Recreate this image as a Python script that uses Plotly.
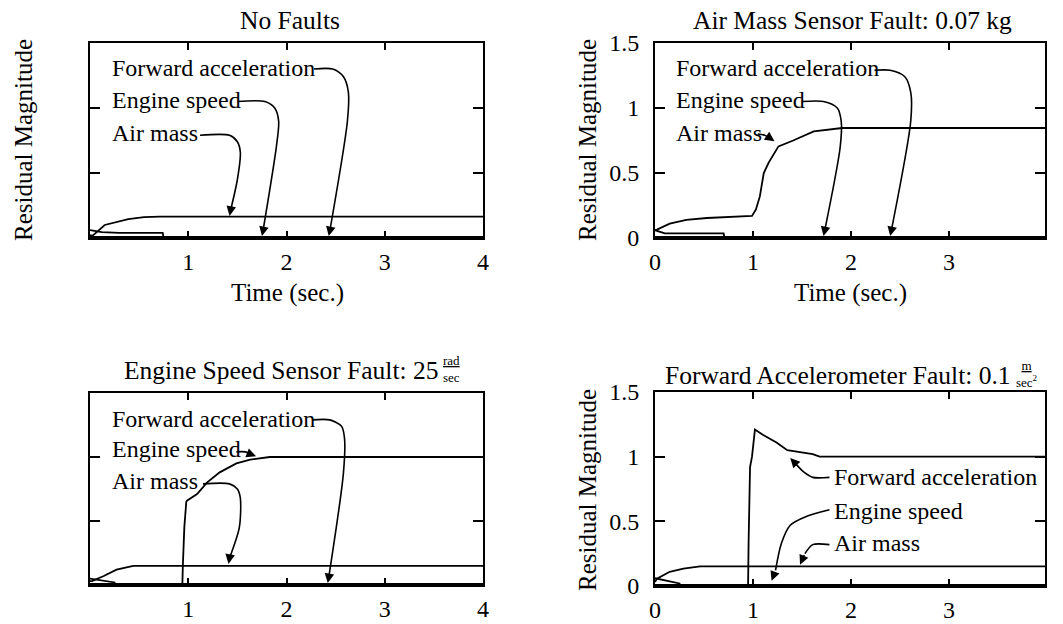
import plotly.graph_objects as go

# ---------------- data ----------------
# Panel 1: No Faults
t1_air = [0.0, 0.03, 0.15, 0.28, 0.39, 0.55, 0.71, 4.0]
r1_air = [0.02, 0.02, 0.10, 0.125, 0.145, 0.16, 0.165, 0.165]
t1_trans = [0.0, 0.12, 0.3, 0.74, 0.75, 4.0]
r1_trans = [0.06, 0.045, 0.04, 0.04, 0.0, 0.0]
t1_zero = [0.0, 4.0]
r1_zero = [0.0, 0.0]

# Panel 2: Air Mass Sensor Fault
t2_air = [0.0, 0.02, 0.15, 0.32, 0.53, 0.99, 1.03, 1.07, 1.11, 1.16, 1.26, 1.41, 1.62, 1.91, 3.98]
r2_air = [0.06, 0.064, 0.11, 0.14, 0.154, 0.17, 0.22, 0.32, 0.50, 0.58, 0.705, 0.75, 0.82, 0.846, 0.846]
t2_trans = [0.0, 0.1, 0.7, 0.71, 3.98]
r2_trans = [0.06, 0.035, 0.035, 0.0, 0.0]
t2_zero = [0.0, 3.98]
r2_zero = [0.0, 0.0]

# Panel 3: Engine Speed Sensor Fault
t3_air = [0.0, 0.02, 0.14, 0.27, 0.44, 4.0]
r3_air = [0.03, 0.03, 0.07, 0.12, 0.15, 0.15]
t3_eng = [0.0, 0.94, 0.945, 0.96, 0.98, 0.99, 1.09, 1.19, 1.32, 1.49, 1.63, 1.83, 4.0]
r3_eng = [0.0, 0.0, 0.15, 0.45, 0.65, 0.66, 0.71, 0.80, 0.88, 0.95, 0.98, 1.0, 1.0]
t3_trans = [0.0, 0.25, 0.26, 4.0]
r3_trans = [0.05, 0.02, 0.0, 0.0]
t3_zero = [0.0, 4.0]
r3_zero = [0.0, 0.0]

# Panel 4: Forward Accelerometer Fault
t4_air = [0.0, 0.02, 0.15, 0.29, 0.46, 3.98]
r4_air = [0.03, 0.057, 0.11, 0.134, 0.152, 0.152]
t4_fwd = [0.0, 0.95, 0.955, 0.97, 0.99, 1.02, 1.1, 1.24, 1.35, 1.5, 1.61, 1.68, 3.98]
r4_fwd = [0.0, 0.0, 0.33, 0.92, 1.0, 1.21, 1.17, 1.11, 1.05, 1.03, 1.02, 1.0, 1.0]
t4_trans = [0.0, 0.25, 0.26, 3.98]
r4_trans = [0.06, 0.02, 0.0, 0.0]
t4_zero = [0.0, 3.98]
r4_zero = [0.0, 0.0]

y_tickvals = [0, 0.5, 1, 1.5]
y_ticktext = ["0", "0.5", "1", "1.5"]
x_tickvals_left = [1, 2, 3, 4]
x_tickvals_right = [0, 1, 2, 3]

titles = ["No Faults", "Air Mass Sensor Fault: 0.07 kg",
          "Engine Speed Sensor Fault: 25", "Forward Accelerometer Fault: 0.1"]
labels = ["Forward acceleration", "Engine speed", "Air mass"]

# ---------------- layout config ----------------
W, H = 1063, 624
FONT = "Liberation Serif"
FS = 24
FS_TITLE = 25.5
BLACK = "#000000"

def px_x(p):
    return p / W

def px_y(p):
    return 1 - p / H

panels = [
    dict(xa="x", ya="y", xdom=(90, 483), ydom=(43, 238), xr=[0, 4], xt=x_tickvals_left, ylab=False),
    dict(xa="x2", ya="y2", xdom=(655, 1045), ydom=(43, 238), xr=[0, 3.98], xt=x_tickvals_right, ylab=True),
    dict(xa="x3", ya="y3", xdom=(90, 483), ydom=(393, 585), xr=[0, 4], xt=x_tickvals_left, ylab=False),
    dict(xa="x4", ya="y4", xdom=(655, 1045), ydom=(392, 586), xr=[0, 3.98], xt=x_tickvals_right, ylab=True),
]

series = [
    [(t1_trans, r1_trans), (t1_air, r1_air)],
    [(t2_trans, r2_trans), (t2_air, r2_air)],
    [(t3_trans, r3_trans), (t3_air, r3_air), (t3_eng, r3_eng)],
    [(t4_trans, r4_trans), (t4_air, r4_air), (t4_fwd, r4_fwd)],
]
zero_series = [(t1_zero, r1_zero), (t2_zero, r2_zero), (t3_zero, r3_zero), (t4_zero, r4_zero)]

# label text positions (data coords) and leader paths (annotation styling)
label_pos = [
    [(0.2, 1.31), (0.2, 1.06), (0.2, 0.81)],
    [(0.19, 1.31), (0.19, 1.06), (0.19, 0.81)],
    [(0.2, 1.30), (0.2, 1.065), (0.2, 0.81)],
    [(1.81, 0.84), (1.81, 0.58), (1.81, 0.33)],
]
leaders = [
    [
        [(2.28, 1.30), (2.47, 1.30), (2.58, 1.24), (2.63, 1.12), (2.62, 0.9), (2.44, 0.05)],
        [(1.50, 1.05), (1.78, 1.05), (1.88, 1.0), (1.92, 0.9), (1.90, 0.72), (1.76, 0.05)],
        [(1.12, 0.79), (1.42, 0.79), (1.50, 0.74), (1.53, 0.66), (1.50, 0.45), (1.43, 0.21)],
    ],
    [
        [(2.24, 1.29), (2.40, 1.29), (2.55, 1.24), (2.61, 1.12), (2.61, 0.9), (2.41, 0.05)],
        [(1.50, 1.05), (1.72, 1.05), (1.86, 1.0), (1.90, 0.9), (1.89, 0.7), (1.73, 0.05)],
        [(1.05, 0.80), (1.12, 0.79), (1.18, 0.765)],
    ],
    [
        [(2.26, 1.29), (2.44, 1.29), (2.56, 1.24), (2.59, 1.15), (2.58, 0.88), (2.43, 0.06)],
        [(1.49, 1.04), (1.58, 1.04), (1.64, 1.02)],
        [(1.15, 0.79), (1.42, 0.79), (1.50, 0.75), (1.53, 0.68), (1.52, 0.45), (1.42, 0.21)],
    ],
    [
        [(1.78, 0.84), (1.61, 0.84), (1.52, 0.88), (1.43, 0.95)],
        [(1.78, 0.59), (1.55, 0.54), (1.38, 0.47), (1.29, 0.33), (1.23, 0.12)],
        [(1.78, 0.32), (1.61, 0.32), (1.53, 0.25)],
    ],
]
arrow_tips = [
    [(2.43, 0.015), (1.75, 0.015), (1.42, 0.17)],
    [(2.40, 0.015), (1.72, 0.015), (1.22, 0.745)],
    [(2.42, 0.015), (1.69, 1.005), (1.41, 0.165)],
    [(1.38, 0.99), (1.19, 0.04), (1.48, 0.165)],
]

fig = go.Figure()

for i, p in enumerate(panels):
    zt, zr = zero_series[i]
    fig.add_trace(go.Scatter(x=zt, y=zr, mode="lines", xaxis=p["xa"], yaxis=p["ya"],
                             line=dict(color=BLACK, width=4), hoverinfo="skip",
                             showlegend=False))
    for (tx, ry) in series[i]:
        fig.add_trace(go.Scatter(x=tx, y=ry, mode="lines", xaxis=p["xa"], yaxis=p["ya"],
                                 line=dict(color=BLACK, width=1.8), hoverinfo="skip",
                                 showlegend=False))
    for lp in leaders[i]:
        fig.add_trace(go.Scatter(x=[q[0] for q in lp], y=[q[1] for q in lp], mode="lines",
                                 xaxis=p["xa"], yaxis=p["ya"],
                                 line=dict(color=BLACK, width=1.6, shape="spline", smoothing=0.8),
                                 hoverinfo="skip", showlegend=False))

annotations = []
for i, p in enumerate(panels):
    for j, lab in enumerate(labels):
        lx, ly = label_pos[i][j]
        annotations.append(dict(x=lx, y=ly, xref=p["xa"], yref=p["ya"], text=lab,
                                showarrow=False, xanchor="left", yanchor="middle",
                                font=dict(family=FONT, size=FS, color=BLACK)))
        tip = arrow_tips[i][j]
        tail = leaders[i][j][-1]
        annotations.append(dict(x=tip[0], y=tip[1], ax=tail[0], ay=tail[1],
                                xref=p["xa"], yref=p["ya"], axref=p["xa"], ayref=p["ya"],
                                text="", showarrow=True, arrowhead=2, arrowsize=1.2,
                                arrowwidth=1.6, arrowcolor=BLACK))

# titles
title_pos = [(290, 20, "center"), (852, 20, "center"), (440, 370, "right"), (1013, 375, "right")]
for (tx, ty, anc), tt in zip(title_pos, titles):
    annotations.append(dict(x=px_x(tx), y=px_y(ty), xref="paper", yref="paper", text=tt,
                            showarrow=False, xanchor=anc, yanchor="middle",
                            font=dict(family=FONT, size=FS_TITLE, color=BLACK)))
# stacked unit fractions
annotations.append(dict(x=px_x(441), y=px_y(369), xref="paper", yref="paper",
                        text="<u>rad</u><br>sec", showarrow=False, xanchor="left",
                        yanchor="middle", font=dict(family=FONT, size=13, color=BLACK)))
annotations.append(dict(x=px_x(1014), y=px_y(374), xref="paper", yref="paper",
                        text="<u>m</u><br>sec<sup>2</sup>", showarrow=False, xanchor="left",
                        yanchor="middle", font=dict(family=FONT, size=13, color=BLACK)))

# axis titles
for (tx, ty) in [(287, 293), (850, 293)]:
    annotations.append(dict(x=px_x(tx), y=px_y(ty), xref="paper", yref="paper",
                            text="Time (sec.)", showarrow=False, xanchor="center",
                            yanchor="middle", font=dict(family=FONT, size=25, color=BLACK)))
for (tx, ty) in [(23, 140), (587, 140), (587, 490)]:
    annotations.append(dict(x=px_x(tx), y=px_y(ty), xref="paper", yref="paper",
                            text="Residual Magnitude", showarrow=False, textangle=-90,
                            xanchor="center", yanchor="middle",
                            font=dict(family=FONT, size=25, color=BLACK)))

layout = dict(width=W, height=H, margin=dict(l=0, r=0, t=0, b=0, autoexpand=False),
              paper_bgcolor="white", plot_bgcolor="white", showlegend=False,
              annotations=annotations)

for i, p in enumerate(panels):
    sx = "" if i == 0 else str(i + 1)
    layout["xaxis" + sx] = dict(
        domain=[px_x(p["xdom"][0]), px_x(p["xdom"][1])], range=p["xr"],
        anchor=p["ya"], tickvals=p["xt"], ticks="inside", ticklen=7, tickwidth=2,
        tickcolor=BLACK, showline=True, linecolor=BLACK, linewidth=2, mirror="ticks",
        showgrid=False, zeroline=False, ticklabelstandoff=1, automargin=False,
        tickfont=dict(family=FONT, size=FS, color=BLACK))
    layout["yaxis" + sx] = dict(
        domain=[px_y(p["ydom"][1]), px_y(p["ydom"][0])], range=[0, 1.5],
        anchor=p["xa"], tickvals=y_tickvals, ticktext=y_ticktext, ticks="inside",
        ticklen=10, tickwidth=2, tickcolor=BLACK, showline=True, linecolor=BLACK,
        linewidth=2, mirror="ticks", showgrid=False, zeroline=False,
        showticklabels=p["ylab"], ticklabelstandoff=9, automargin=False,
        tickfont=dict(family=FONT, size=FS, color=BLACK))

fig.update_layout(**layout)
fig.write_html(
    "out.html",
    config={"displayModeBar": False},
    post_script=(
        "document.documentElement.style.overflow='hidden';"
        "document.body.style.margin='0';document.body.style.overflow='hidden';"
        "var d=document.getElementById('{plot_id}');"
        "d.style.position='fixed';d.style.left='0px';d.style.top='0px';"
    ),
)
